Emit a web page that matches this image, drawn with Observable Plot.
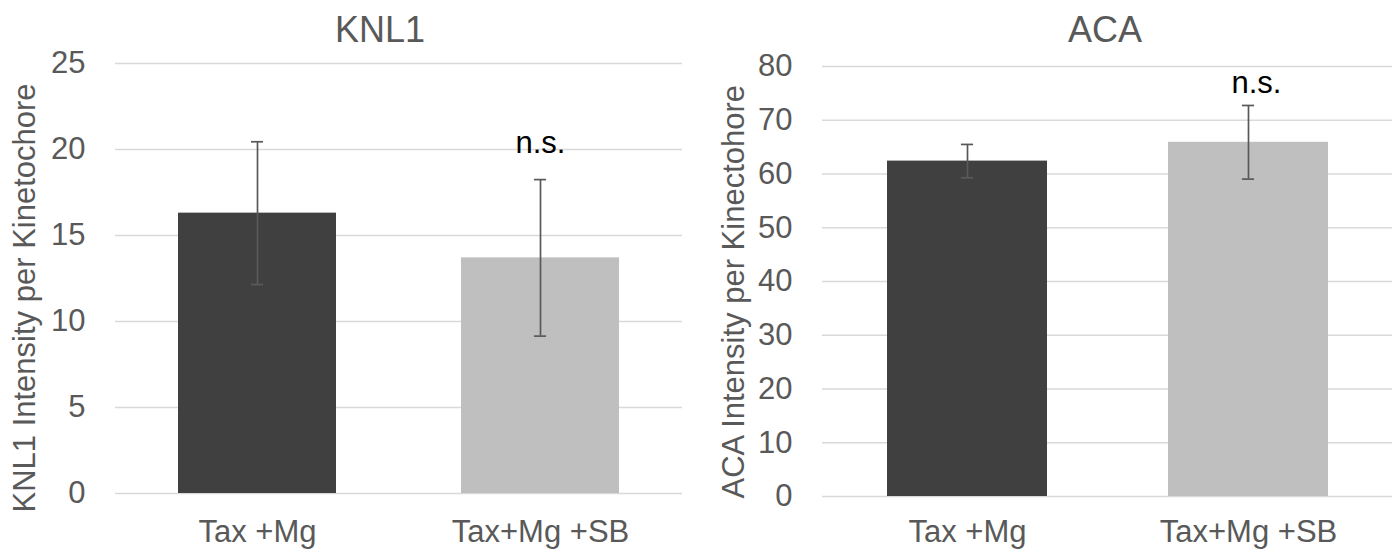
<!DOCTYPE html>
<html>
<head>
<meta charset="utf-8">
<script src="https://cdn.jsdelivr.net/npm/d3@7"></script>
<script src="https://cdn.jsdelivr.net/npm/@observablehq/plot@0.6"></script>
<style>
  html, body { margin: 0; padding: 0; background: #ffffff; }
  #wrap { position: relative; width: 1392px; height: 551px; overflow: hidden; font-family: "Liberation Sans", Arial, sans-serif; }
  .ttl { position: absolute; top: 12px; font-size: 36px; line-height: 36px; color: #595959; text-align: center; white-space: nowrap; }
  #wrap svg { position: absolute; top: 0; }
</style>
</head>
<body>
<div id="wrap"></div>
<script>
// ---- data ----
const categories = ["Tax +Mg", "Tax+Mg +SB"];
const barColors = ["#404040", "#bfbfbf"];

const knl1Title = "KNL1";
const knl1YLabel = "KNL1 Intensity per Kinetochore";
const knl1Mean = [16.3, 13.7];
const knl1Err = [4.15, 4.55];
const knl1Ticks = [0, 5, 10, 15, 20, 25];
const knl1Sig = ["", "n.s."];
const knl1SigY = [null, 19.8];

const acaTitle = "ACA";
const acaYLabel = "ACA Intensity per Kinectohore";
const acaMean = [62.4, 65.9];
const acaErr = [3.1, 6.85];
const acaTicks = [0, 10, 20, 30, 40, 50, 60, 70, 80];
const acaSig = ["", "n.s."];
const acaSigY = [null, 75];

function rows(means, errs, sig, sigY) {
  return categories.map((c, i) => ({
    cat: c, mean: means[i], lo: means[i] - errs[i], hi: means[i] + errs[i],
    sig: sig[i], sigY: sigY[i]
  }));
}

function panel(o) {
  const data = rows(o.means, o.errs, o.sig, o.sigY);
  const bw = (o.width - o.marginLeft - o.marginRight) / (2 - o.pi + 2 * o.po) * (1 - o.pi);
  const capInset = (bw - 12) / 2;
  const svg = Plot.plot({
    width: o.width,
    height: 551,
    marginTop: o.marginTop,
    marginBottom: o.marginBottom,
    marginLeft: o.marginLeft,
    marginRight: o.marginRight,
    style: {
      fontFamily: '"Liberation Sans", Arial, sans-serif',
      fontSize: "31px",
      color: "#595959",
      background: "transparent",
      overflow: "visible"
    },
    x: { domain: categories, paddingInner: o.pi, paddingOuter: o.po, tickSize: 0, tickPadding: o.xPad, label: null },
    y: { domain: [0, o.ticks[o.ticks.length - 1]], ticks: o.ticks, tickSize: 0, tickPadding: 30, label: null },
    color: { domain: categories, range: barColors },
    marks: [
      Plot.ruleY(o.ticks, { stroke: "#d9d9d9", strokeWidth: 1.5 }),
      Plot.barY(data, { x: "cat", y: "mean", fill: "cat" }),
      Plot.ruleX(data, { x: "cat", y1: "lo", y2: "hi", stroke: "#595959", strokeWidth: 1.7 }),
      Plot.tickY(data, { x: "cat", y: "hi", stroke: "#595959", strokeWidth: 1.7, insetLeft: capInset, insetRight: capInset }),
      Plot.tickY(data, { x: "cat", y: "lo", stroke: "#595959", strokeWidth: 1.7, insetLeft: capInset, insetRight: capInset }),
      Plot.text(data.filter(d => d.sig), { x: "cat", y: "sigY", text: "sig", fill: "#000000", fontSize: 31, lineAnchor: "bottom", dx: o.sigDx }),
      Plot.text([o.yLabel], { frameAnchor: "left", rotate: -90, textAnchor: "start", lineAnchor: "middle", dx: o.labelDx, dy: o.labelDy, fontSize: 31, fill: "#595959" })
    ]
  });
  svg.style.left = o.left + "px";
  return svg;
}

const wrap = document.getElementById("wrap");

wrap.appendChild(panel({
  means: knl1Mean, errs: knl1Err, sig: knl1Sig, sigY: knl1SigY, ticks: knl1Ticks, yLabel: knl1YLabel,
  width: 692, left: 0, marginTop: 63, marginBottom: 58, marginLeft: 115, marginRight: 10,
  pi: 0.4427, po: 0.2213, sigDx: 0, labelDx: -90, labelDy: 234, xPad: 26
}));
wrap.appendChild(panel({
  means: acaMean, errs: acaErr, sig: acaSig, sigY: acaSigY, ticks: acaTicks, yLabel: acaYLabel,
  width: 700, left: 692, marginTop: 66, marginBottom: 55, marginLeft: 130, marginRight: 0,
  pi: 0.432, po: 0.2285, sigDx: 8, labelDx: -88, labelDy: 217, xPad: 23
}));

const t1 = document.createElement("div");
t1.className = "ttl"; t1.textContent = knl1Title;
t1.style.left = "0px"; t1.style.width = "760px";
wrap.appendChild(t1);
const t2 = document.createElement("div");
t2.className = "ttl"; t2.textContent = acaTitle;
t2.style.left = "905px"; t2.style.width = "400px";
wrap.appendChild(t2);
</script>
</body>
</html>
